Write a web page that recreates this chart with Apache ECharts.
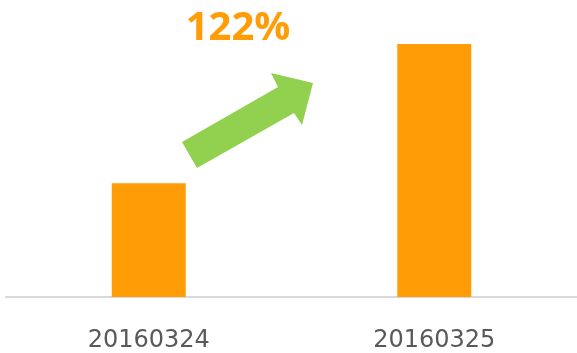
<!DOCTYPE html>
<html>
<head>
<meta charset="utf-8">
<style>
  html, body { margin: 0; padding: 0; background: #ffffff; }
  #chart { width: 577px; height: 353px; }
</style>
<script src="https://cdn.jsdelivr.net/npm/echarts@6/dist/echarts.min.js"></script>
</head>
<body>
<div id="chart"></div>
<script>
// Daily totals for two consecutive days
const dates = ['20160324', '20160325'];
const totals = [45, 100];

// Growth from the first day to the second, shown above the arrow
const growthPct = Math.round((totals[1] / totals[0] - 1) * 100) + '%';

const chart = echarts.init(document.getElementById('chart'), null, { renderer: 'canvas' });

chart.setOption({
  animation: false,
  backgroundColor: '#ffffff',
  grid: { left: 6, width: 577, top: 44, bottom: 55, containLabel: false },
  xAxis: {
    type: 'category',
    data: dates,
    axisLine: { show: true, lineStyle: { color: '#d9d9d9', width: 2 } },
    axisTick: { show: false },
    axisLabel: {
      color: '#595959',
      fontFamily: 'DejaVu Sans',
      fontSize: 24,
      margin: 32
    }
  },
  yAxis: {
    type: 'value',
    min: 0,
    max: 100,
    show: false,
    splitLine: { show: false }
  },
  series: [{
    type: 'bar',
    data: totals,
    barWidth: 74,
    itemStyle: { color: '#ff9c06' }
  }],
  graphic: [
    {
      // upward arrow between the two bars
      type: 'polygon',
      shape: {
        points: [
          [182, 142], [278, 87], [271, 73], [313, 83],
          [302, 125], [294, 113], [197, 168]
        ]
      },
      style: { fill: '#92d050' },
      z: 10
    },
    {
      type: 'text',
      x: 238,
      y: 29,
      style: {
        text: growthPct,
        fill: '#ff9c06',
        font: 'bold 40px "Open Sans"',
        textAlign: 'center',
        textVerticalAlign: 'middle'
      },
      z: 10
    }
  ]
});
</script>
</body>
</html>
